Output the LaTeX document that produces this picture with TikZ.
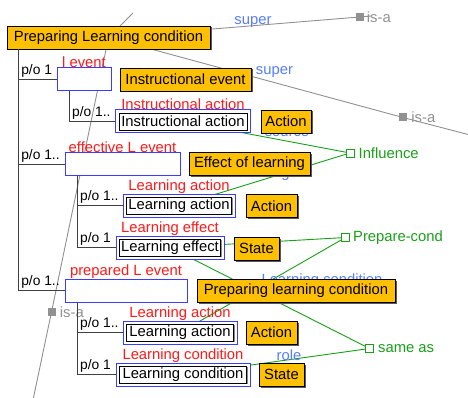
\documentclass[tikz,border=0pt]{standalone}
\usepackage{fontspec}
\setmainfont{Liberation Sans}
\usetikzlibrary{shadows}
\pgfdeclarelayer{bg}
\pgfsetlayers{bg,main}
\definecolor{cyel}{RGB}{255,192,0}
\definecolor{cslot}{RGB}{60,60,255}
\definecolor{cred}{RGB}{255,25,25}
\definecolor{crole}{RGB}{85,125,255}
\definecolor{cgreen}{RGB}{25,160,25}
\definecolor{cisa}{RGB}{145,145,145}

\begin{document}
\begin{tikzpicture}[x=1pt,y=-1pt,
  every node/.style={font=\fontsize{14.8}{16}\selectfont, inner sep=0pt},
  concept/.style={draw=black, line width=0.8pt, fill=cyel, minimum height=23pt,
    drop shadow={shadow xshift=1.5pt, shadow yshift=-1.5pt, fill=black!65, opacity=1}},
  slot/.style={draw=cslot, line width=1pt, fill=white, minimum height=23pt},
  inst/.style={draw=black, line width=0.9pt, fill=white, minimum height=17pt,
    drop shadow={shadow xshift=1pt, shadow yshift=-1pt, fill=black!45, opacity=1}},
  rname/.style={text=cred},
  pol/.style={font=\fontsize{13.8}{15}\selectfont, anchor=south west, xshift=2pt, yshift=1pt},
  tree/.style={draw=black!75, line width=1.3pt},
  isasq/.style={fill=cisa, minimum size=8pt},
  isatxt/.style={text=cisa},
  isaln/.style={draw=cisa, line width=0.9pt},
  relsq/.style={draw=cgreen, fill=white, line width=0.9pt, minimum size=8pt},
  reltxt/.style={text=cgreen},
  relln/.style={draw=cgreen, line width=0.9pt},
  rolelbl/.style={text=crole}]

  \begin{pgfonlayer}{bg}
    \fill[white] (0,0) rectangle (468,398);
  \end{pgfonlayer}
  \useasboundingbox (0,0) rectangle (468,398);

  \node[concept, minimum width=203pt] (plc) at (108.5,37.5) {Preparing Learning condition};

  \node[slot, minimum width=54pt, label={[rname]above:l event}] (lev) at (84,79.5) {};
  \node[concept, minimum width=131pt] (iev) at (185.5,79.5) {Instructional event};
  \node[slot, minimum width=135pt, label={[rname]above:Instructional action}] (iaf) at (183,121.5) {};
  \node[inst, minimum width=128pt] (ia) at (iaf) {Instructional action};
  \node[concept, minimum width=50pt] (act1) at (286,121.5) {Action};

  \node[slot, minimum width=115pt, label={[rname]above:effective L event}] (elev) at (122.5,164.5) {};
  \node[concept, minimum width=121pt] (eol) at (249.5,164) {Effect of learning};
  \node[slot, minimum width=112pt, label={[rname]above:Learning action}] (la1f) at (179,205.5) {};
  \node[inst, minimum width=105pt] (la1) at (la1f) {Learning action};
  \node[concept, minimum width=51pt] (act2) at (271.5,206) {Action};
  \node[slot, minimum width=108pt, label={[rname]above:Learning effect}] (lef) at (170,247.5) {};
  \node[inst, minimum width=101pt] (le) at (lef) {Learning effect};
  \node[concept, minimum width=45pt] (st1) at (256.5,248.5) {State};

  \node[slot, minimum width=122pt, label={[rname]above:prepared L event}] (plev) at (126,290.5) {};
  \node[concept, minimum width=198pt] (plc2) at (296,291) {Preparing learning condition};
  \node[slot, minimum width=114pt, label={[rname]above:Learning action}] (la2f) at (180,332.5) {};
  \node[inst, minimum width=107pt] (la2) at (la2f) {Learning action};
  \node[concept, minimum width=51pt] (act3) at (271.5,332.5) {Action};
  \node[slot, minimum width=134pt, label={[rname]above:Learning condition}] (lcf) at (183,374.5) {};
  \node[inst, minimum width=127pt] (lc) at (lcf) {Learning condition};
  \node[concept, minimum width=45pt] (st2) at (281.5,374.5) {State};

  % is-a links
  \node[isasq, label={[isatxt, label distance=3pt]right:is-a}] (isa1) at (359.5,17) {};
  \node[isasq, label={[isatxt, label distance=4pt]right:is-a}] (isa2) at (403,117.5) {};
  \node[isasq, label={[isatxt, label distance=4pt]right:is-a}] (isa3) at (51.5,312) {};
  \coordinate (isa0end) at (133,13);
  \coordinate (isa1end) at (371,16);
  \coordinate (isa2end) at (470,135);
  \coordinate (isa3end) at (33,400);

  % relations
  \node[relsq, label={[reltxt, label distance=4pt]right:Influence}] (infl) at (350,153) {};
  \node[relsq, label={[reltxt, label distance=3pt]right:Prepare-cond}] (prep) at (345.5,237.5) {};
  \node[relsq, label={[reltxt, label distance=4pt]right:same as}] (same) at (369.5,348.5) {};

  % part-of tree
  \draw[tree] ([xshift=12pt]plc.south west) |- node[pol, pos=.5] {p/o 1} (lev.west);
  \draw[tree] ([xshift=12pt]plc.south west) |- node[pol, pos=.5] {p/o 1..} (elev.west);
  \draw[tree] ([xshift=12pt]plc.south west) |- node[pol, pos=.5] {p/o 1..} (plev.west);
  \draw[tree] ([xshift=13pt]lev.south west) |- node[pol, pos=.5] {p/o 1..} (iaf.west);
  \draw[tree] ([xshift=13pt]elev.south west) |- node[pol, pos=.5] {p/o 1..} (la1f.west);
  \draw[tree] ([xshift=13pt]elev.south west) |- node[pol, pos=.5] {p/o 1} (lef.west);
  \draw[tree] ([xshift=13pt]plev.south west) |- node[pol, pos=.5] {p/o 1..} (la2f.west);
  \draw[tree] ([xshift=13pt]plev.south west) |- node[pol, pos=.5] {p/o 1} (lcf.west);

  \begin{pgfonlayer}{bg}
    \draw[isaln] (plc.center) -- (isa0end);
    \draw[isaln] (plc.center) -- (isa1.center) -- (isa1end);
    \draw[isaln] (plc.center) -- (isa2.center) -- (isa2end);
    \draw[isaln] (plc.center) -- (isa3.center) -- (isa3end);
    \node[rolelbl] (sup1) at (253,22) {super};
    \node[rolelbl] (sup2) at (274.5,72) {super};

    \draw[relln] (ia.center) -- (infl.center);
    \draw[relln] (la1.center) -- (infl.center);
    \draw[relln] (le.center) -- (prep.center);
    \draw[relln] (la2.center) -- (prep.center);
    \draw[relln] (le.center) -- (same.center);
    \draw[relln] (lc.center) -- (same.center);
    \node[rolelbl] (src) at (287,133) {source};
    \node[rolelbl] (tgt) at (283,174) {target};
    \node[rolelbl] (lcrole) at (322,281) {Learning condition};
    \node[rolelbl] (rl) at (289,355) {role};
  \end{pgfonlayer}
\end{tikzpicture}
\end{document}
